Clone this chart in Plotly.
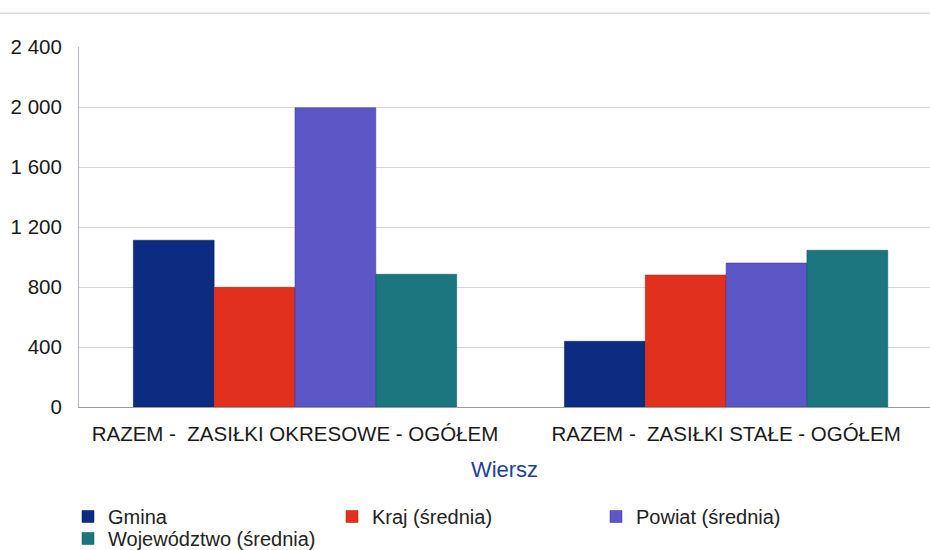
import plotly.graph_objects as go

categories = ["RAZEM -\u00a0 ZASIŁKI OKRESOWE - OGÓŁEM", "RAZEM -\u00a0 ZASIŁKI STAŁE - OGÓŁEM"]
series_names = ["Gmina", "Kraj (średnia)", "Powiat (średnia)", "Województwo (średnia)"]
gmina = [1112, 438]
kraj = [798, 880]
powiat = [1995, 960]
wojewodztwo = [885, 1045]
y_ticks = [0, 400, 800, 1200, 1600, 2000, 2400]
y_tick_labels = ["0", "400", "800", "1 200", "1 600", "2 000", "2 400"]

colors = ["#0c2c82", "#e2301e", "#5c56c6", "#1b7680"]
line_colors = ["#061a55", "#a81c10", "#3a32a0", "#0e5058"]
legend_ids = ["legend", "legend", "legend", "legend2"]
values = [gmina, kraj, powiat, wojewodztwo]

FIG_W, FIG_H = 930, 550

fig = go.Figure()
for name, vals, c, lc, lg in zip(series_names, values, colors, line_colors, legend_ids):
    fig.add_trace(go.Bar(
        x=categories, y=vals, name=name, legend=lg,
        marker=dict(color=c, line=dict(color=lc, width=0.5)),
    ))

font_family = "Liberation Sans, Arial, sans-serif"
legend_common = dict(
    orientation="h", xref="container", yref="container",
    xanchor="left", yanchor="top",
    entrywidth=219, entrywidthmode="pixels",
    font=dict(size=20, color="#222222", family=font_family),
    bgcolor="rgba(0,0,0,0)", borderwidth=0,
)

fig.update_layout(
    width=FIG_W, height=FIG_H,
    paper_bgcolor="white", plot_bgcolor="white",
    margin=dict(l=79, r=0, t=47, b=143, autoexpand=False),
    barmode="group", bargap=0.25, bargroupgap=0,
    font=dict(family=font_family, size=16, color="#222222"),
    showlegend=True,
    legend=dict(x=68 / FIG_W, y=1 - 497 / FIG_H, **legend_common),
    legend2=dict(x=68 / FIG_W, y=1 - 519 / FIG_H, **legend_common),
    xaxis=dict(
        range=[-0.501, 1.473],
        showgrid=False, showline=True, linecolor="#9a9aa8", linewidth=1,
        ticks="outside", ticklen=8, tickcolor="rgba(0,0,0,0)",
        tickfont=dict(size=20.5, color="#1a1a1a"),
        title=dict(text="Wiersz", font=dict(size=22, color="#1f3f9a"), standoff=18),
    ),
    yaxis=dict(
        range=[0, 2400], tickvals=y_ticks, ticktext=y_tick_labels,
        showgrid=True, gridcolor="#d6d6e2", gridwidth=1,
        showline=True, linecolor="#b4b4c8", linewidth=1,
        zeroline=True, zerolinecolor="#9a9aa8", zerolinewidth=1,
        ticks="outside", ticklen=12, tickcolor="rgba(0,0,0,0)",
        tickfont=dict(size=20.5, color="#1a1a1a"),
    ),
)

fig.add_shape(type="line", xref="paper", yref="paper",
              x0=-0.0928, x1=1.0, y0=1.094, y1=1.094,
              line=dict(color="#c8c8d4", width=1))

fig.write_html(
    "out.html",
    config={"displayModeBar": False},
    post_script="document.body.style.margin='0';document.body.style.overflow='hidden';",
)
